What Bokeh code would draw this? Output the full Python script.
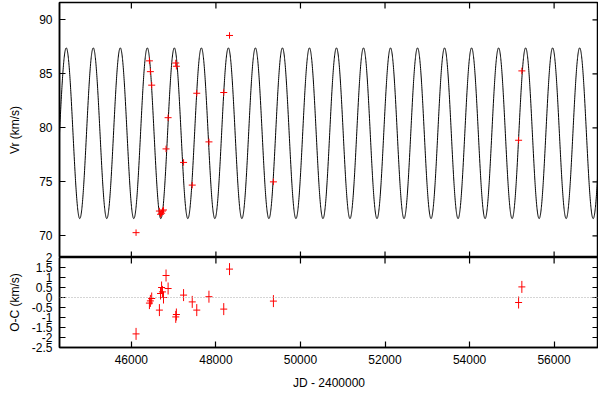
import numpy as np
from bokeh.plotting import figure
from bokeh.models import (Range1d, LinearAxis, FixedTicker, NumeralTickFormatter,
                          Span, ColumnDataSource)
from bokeh.layouts import column
from bokeh.embed import file_html
from bokeh.resources import INLINE

# ---- observations (JD - 2400000) ----
jd = [46111, 46427, 46450, 46481, 46663, 46690, 46715, 46735, 46760, 46820, 46869,
      47050, 47065, 47235, 47440, 47547, 47835, 48185, 48322, 49360, 55160, 55237]
vr = [70.3, 86.2, 85.2, 83.95, 72.3, 72.0, 72.1, 72.3, 72.4, 78.05, 80.94,
      86.0, 85.7, 76.8, 74.7, 83.2, 78.7, 83.27, 88.55, 75.0, 78.85, 85.27]
oc = [-1.82, -0.28, -0.17, -0.05, -0.63, 0.2, 0.5, 0.28, 0.0, 1.1, 0.45,
      -0.97, -0.85, 0.12, -0.22, -0.63, 0.04, -0.58, 1.42, -0.18, -0.25, 0.53]
err = [0.3] * len(jd)

# ---- tick values ----
x_ticks = [46000, 48000, 50000, 52000, 54000, 56000]
vr_ticks = [70, 75, 80, 85, 90]
oc_ticks = [-2.5, -2, -1.5, -1, -0.5, 0, 0.5, 1, 1.5, 2]

# ---- orbit solution (circular) ----
period = 639.2
t_max = 52130.0
gamma = 79.5
k_amp = 7.9

x_min, x_max = 44300, 57050
vr_min, vr_max = 68, 91.6
oc_min, oc_max = -2.5, 2

t_model = np.linspace(x_min, x_max, 4000)
v_model = gamma + k_amp * np.cos(2 * np.pi * (t_model - t_max) / period)

src = ColumnDataSource(dict(
    jd=jd, vr=vr, oc=oc,
    vlo=[v - e for v, e in zip(vr, err)], vhi=[v + e for v, e in zip(vr, err)],
    olo=[o - e for o, e in zip(oc, err)], ohi=[o + e for o, e in zip(oc, err)],
))

FONT = "Liberation Sans"
TICK_FS = "12px"
LAB_FS = "12px"
RED = "#ff0000"
OVERLAP = 8

xr = Range1d(x_min, x_max)


def style(ax, standoff=7):
    ax.axis_line_color = "black"
    ax.axis_line_width = 1.5
    ax.major_tick_in = 6
    ax.major_tick_out = 0
    ax.minor_tick_in = 0
    ax.minor_tick_out = 0
    ax.major_tick_line_color = "black"
    ax.major_tick_line_width = 1.2
    ax.major_label_text_font = FONT
    ax.major_label_text_font_size = TICK_FS
    ax.major_label_text_color = "black"
    ax.major_label_standoff = standoff
    ax.axis_label_text_font = FONT
    ax.axis_label_text_font_size = LAB_FS
    ax.axis_label_text_font_style = "normal"
    ax.axis_label_text_color = "black"
    return ax


def base(frame_h, yr, mb_top):
    p = figure(frame_width=539, frame_height=frame_h, x_range=xr, y_range=yr,
               output_backend="svg", toolbar_location=None,
               x_axis_location=None, y_axis_location=None,
               min_border_left=59, min_border_right=0,
               min_border_top=mb_top, min_border_bottom=0)
    p.grid.visible = False
    p.outline_line_color = "black"
    p.outline_line_width = 1.5
    p.background_fill_color = "white"
    p.border_fill_color = "white"
    return p


def mirror_ticks(p, y_ticks, y_lo, y_hi, top=True, bottom=True):
    # inward tick marks on the frame edges without labels
    xs, ys = [], []
    if top:
        xs += x_ticks
        ys += [y_hi] * len(x_ticks)
    if bottom:
        xs += x_ticks
        ys += [y_lo] * len(x_ticks)
    p.scatter(xs, ys, marker="dash", angle=np.pi / 2, size=12,
              line_color="black", line_width=1.2)
    p.scatter([x_max] * len(y_ticks), y_ticks, marker="dash", size=12,
              line_color="black", line_width=1.2)


def points(p, ycol, lo, hi):
    p.segment(x0="jd", y0=lo, x1="jd", y1=hi, source=src, line_color=RED, line_width=1)
    p.scatter(x="jd", y=ycol, source=src, marker="dash", size=7,
              line_color=RED, fill_color=RED, line_width=1)


# ---- top panel: radial velocities ----
p1 = base(255, Range1d(vr_min, vr_max), 2)
p1.add_layout(style(LinearAxis(ticker=FixedTicker(ticks=vr_ticks),
                               axis_label="Vr (km/s)", axis_label_standoff=14)), "left")
p1.line(t_model, v_model, line_color="black", line_width=1.0)
points(p1, "vr", "vlo", "vhi")
mirror_ticks(p1, vr_ticks, vr_min, vr_max)

# ---- bottom panel: O-C residuals ----
p2 = base(90, Range1d(oc_min, oc_max), OVERLAP)
p2.border_fill_alpha = 0
p2.margin = (-OVERLAP, 0, 0, 0)
ax_l = LinearAxis(ticker=FixedTicker(ticks=oc_ticks), axis_label="O-C (km/s)",
                  axis_label_standoff=7, formatter=NumeralTickFormatter(format="0.[0]"))
p2.add_layout(style(ax_l), "left")
ax_b = LinearAxis(ticker=FixedTicker(ticks=x_ticks), axis_label="JD - 2400000",
                  axis_label_standoff=9, formatter=NumeralTickFormatter(format="0"))
p2.add_layout(style(ax_b, standoff=7), "below")

p2.add_layout(Span(location=0, dimension="width", line_color="#aaaaaa",
                   line_dash="1 2", line_width=1))
points(p2, "oc", "olo", "ohi")
mirror_ticks(p2, oc_ticks, oc_min, oc_max, top=True, bottom=False)

layout = column(p1, p2, spacing=0)
open("out.html", "w").write(file_html(layout, INLINE))
